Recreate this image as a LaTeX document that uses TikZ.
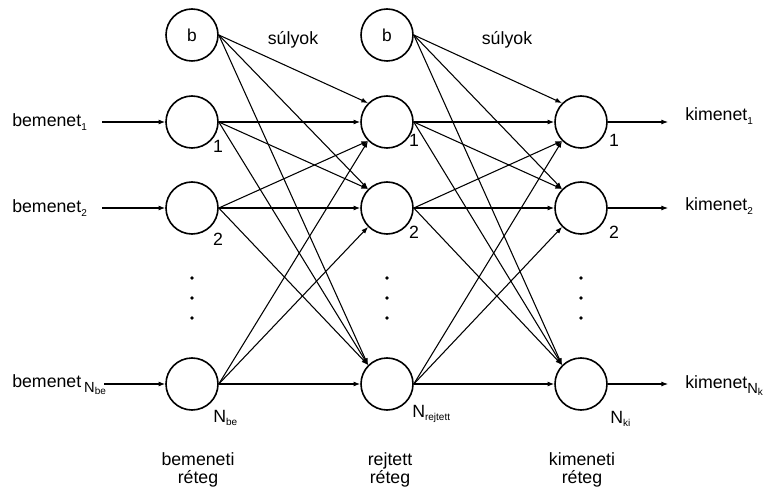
\documentclass[tikz,border=0pt]{standalone}
\usepackage{fontspec}
\setmainfont{Liberation Sans}
\usetikzlibrary{arrows.meta}
\newcommand{\mysub}[1]{\raisebox{-0.35ex}{\fontsize{7.5}{8}\selectfont #1}}
\newcommand{\mybig}[2]{\raisebox{-0.55ex}{\fontsize{11}{12}\selectfont #1\mysub{#2}}}
\begin{document}
\begin{tikzpicture}[x=0.75pt,y=-0.75pt,
  neuron/.style={circle,draw,line width=1.2pt,minimum size=39pt,inner sep=0pt,font=\fontsize{13}{15}\selectfont},
  conn/.style={line width=0.8pt,-{Latex[length=5pt,width=3.8pt]}},
  txt/.style={font=\fontsize{13.3}{15}\selectfont,inner sep=0pt},
  dotm/.style={circle,fill,inner sep=0pt,minimum size=2.8pt}]
\useasboundingbox (0,0) rectangle (766,491);
% neurons
\node[neuron] (b1) at (192,35) {b};
\node[neuron] (i1) at (192,122) {};
\node[neuron] (i2) at (192,208) {};
\node[neuron] (iN) at (192,384) {};
\node[neuron] (b2) at (387,35) {b};
\node[neuron] (h1) at (387,122) {};
\node[neuron] (h2) at (387,208) {};
\node[neuron] (hN) at (387,384) {};
\node[neuron] (o1) at (581,122) {};
\node[neuron] (o2) at (581,208) {};
\node[neuron] (oN) at (581,384) {};
% dots
\foreach \x/\n in {192/a,387/b,581/c}{
  \node[dotm] (d1\n) at (\x,278) {};
  \node[dotm] (d2\n) at (\x,298) {};
  \node[dotm] (d3\n) at (\x,318) {};
}
% connections
\foreach \s/\t/\a in {b1/h1/135,b1/h2/135,b1/hN/135,
  i1/h1/180,i1/h2/135,i1/hN/135,
  i2/h1/-135,i2/h2/180,i2/hN/135,
  iN/h1/-135,iN/h2/-135,iN/hN/180,
  b2/o1/135,b2/o2/135,b2/oN/135,
  h1/o1/180,h1/o2/135,h1/oN/135,
  h2/o1/-135,h2/o2/180,h2/oN/135,
  hN/o1/-135,hN/o2/-135,hN/oN/180}
  \draw[conn] (\s.east) -- (\t.\a);
% inputs
\coordinate (c1) at (102,122);
\coordinate (c2) at (102,208);
\coordinate (cN) at (104,384);
\draw[conn] (c1) -- (i1.west);
\draw[conn] (c2) -- (i2.west);
\draw[conn] (cN) -- (iN.west);
\node[txt,anchor=base west] (t1) at (12,127) {bemenet\mysub{1}};
\node[txt,anchor=base west] (t2) at (12,213) {bemenet\mysub{2}};
\node[txt,anchor=base west] (tN) at (12,387) {bemenet\,\mybig{N}{be}};
% outputs
\coordinate (e1) at (668,122);
\coordinate (e2) at (668,208);
\coordinate (eN) at (668,384);
\draw[conn] (o1.east) -- (e1);
\draw[conn] (o2.east) -- (e2);
\draw[conn] (oN.east) -- (eN);
\node[txt,anchor=base west] (k1) at (685,121) {kimenet\mysub{1}};
\node[txt,anchor=base west] (k2) at (685,211) {kimenet\mysub{2}};
\node[txt,anchor=base west] (kN) at (685,388) {kimenet\mybig{N}{k}};
% node indices
\node[txt] (n1a) at (218,146) {1};
\node[txt] (n2a) at (218,239) {2};
\node[txt,anchor=west] (nNa) at (213,418) {N\mysub{be}};
\node[txt] (n1b) at (414,140) {1};
\node[txt] (n2b) at (414,232) {2};
\node[txt,anchor=west] (nNb) at (412,414) {N\mysub{rejtett}};
\node[txt] (n1c) at (614,140) {1};
\node[txt] (n2c) at (614,232) {2};
\node[txt,anchor=west] (nNc) at (610,419) {N\mysub{ki}};
% weights
\node[txt,anchor=base] (w1) at (293,45) {súlyok};
\node[txt,anchor=base] (w2) at (507,45) {súlyok};
% layer labels
\node[txt,anchor=base] (L1a) at (198,465) {bemeneti};
\node[txt,anchor=base] (L1b) at (198,483) {réteg};
\node[txt,anchor=base] (L2a) at (390,465) {rejtett};
\node[txt,anchor=base] (L2b) at (390,483) {réteg};
\node[txt,anchor=base] (L3a) at (582,465) {kimeneti};
\node[txt,anchor=base] (L3b) at (582,483) {réteg};
\end{tikzpicture}
\end{document}
